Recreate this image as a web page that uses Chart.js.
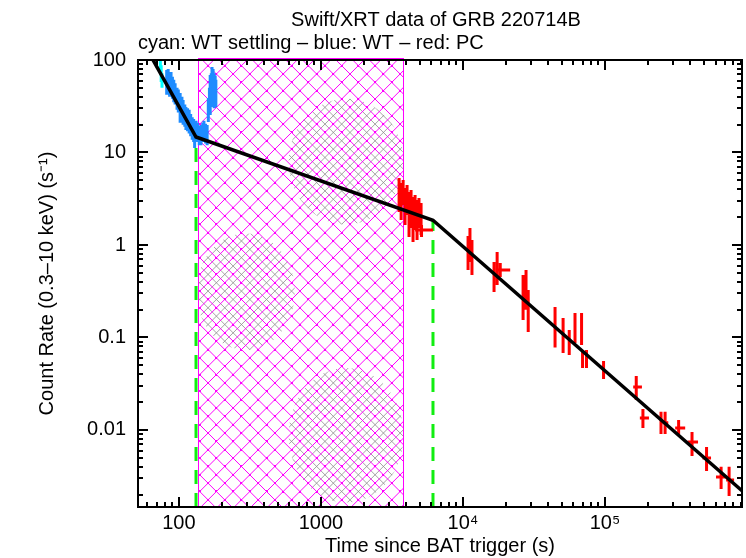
<!DOCTYPE html>
<html><head><meta charset="utf-8">
<script src="https://cdn.jsdelivr.net/npm/chart.js@4/dist/chart.umd.min.js"></script>
<style>html,body{margin:0;padding:0;background:#fff;}#wrap{width:746px;height:558px;}</style>
</head><body><div id="wrap"><canvas id="c" width="746" height="558"></canvas></div>
<script>
const titleText = 'Swift/XRT data of GRB 220714B';
const subtitleText = 'cyan: WT settling \u2013 blue: WT \u2013 red: PC';
const xAxisTitle = 'Time since BAT trigger (s)';
const yAxisTitle = 'Count Rate (0.3\u201310 keV) (s\u207B\u00B9)';

const xTickValues = [100, 1000, 10000, 100000];
const xTickLabels = ['100', '1000', '10\u2074', '10\u2075'];
const yTickValues = [0.01, 0.1, 1, 10, 100];
const yTickLabels = ['0.01', '0.1', '1', '10', '100'];
const xRange = [51.5, 9.22e5];
const yRange = [0.00147, 100];

// WT settling (cyan)
const cyanT = [74.0, 75.0, 76.0];
const cyanRate = [88, 72, 60];
const cyanLo = [76, 58, 50];
const cyanHi = [100, 88, 72];

// WT (blue)
const blueT    = [82, 84, 86, 88, 90, 92, 94, 97, 99, 102, 105, 107, 110, 112, 115, 118, 121, 124, 127, 129, 132, 135, 139, 143, 147, 150, 154, 158, 161, 164, 166, 169, 171, 174, 177, 180, 182];
const blueRate = [57, 60, 52, 54, 50, 46, 43, 38, 36, 31, 30, 27, 25, 23, 22, 21, 19.5, 18, 17, 15.5, 17, 16.5, 15, 15.5, 16.5, 17.5, 16, 15.5, 29, 36, 42, 48, 53, 58, 46, 50, 44];
const blueLo   = [42, 46, 40, 40, 38, 35, 33, 29, 27, 21, 23, 20, 19, 17.5, 17, 16, 15, 13.7, 13, 11.2, 13.5, 13, 12, 12, 13, 13.7, 12.5, 12, 21.3, 26, 25.5, 31, 33, 40, 30, 35, 31];
const blueHi   = [78, 80, 68, 74, 66, 61, 56, 50, 48, 44, 40, 37, 33, 31, 30, 29, 26, 24, 23, 21, 22, 21, 19.5, 19.8, 21, 22, 20.5, 19.8, 38.8, 50, 69, 72, 84, 80, 72, 68, 61];

// PC (red)
const redT    = [3550, 3670, 3790, 3910, 4040, 4170, 4310, 4450, 4600, 4750, 4900, 5070, 5107, 10860, 11200, 11570, 16550, 17400, 18300, 26500, 27800, 28800, 44500, 50700, 56000, 61500, 68400, 69500, 74100, 97700, 166000, 185000, 248000, 265000, 330000, 410000, 519000, 657000, 748000];
const redRate = [3.4, 2.9, 3.7, 2.6, 3.1, 2.1, 2.4, 1.9, 2.2, 1.9, 2.2, 1.9, 1.45, 0.82, 1.0, 0.73, 0.45, 0.56, 0.537, 0.27, 0.33, 0.2, 0.13, 0.105, 0.088, 0.126, 0.12, 0.058, 0.058, 0.0446, 0.0292, 0.0135, 0.0125, 0.012, 0.0105, 0.00742, 0.00498, 0.0031, 0.00288];
const redLo   = [2.27, 1.86, 2.71, 1.64, 2.11, 1.22, 1.53, 1.08, 1.45, 1.13, 1.53, 1.28, 1.22, 0.537, 0.655, 0.474, 0.31, 0.37, 0.45, 0.155, 0.2, 0.1146, 0.0777, 0.068, 0.0647, 0.0873, 0.083, 0.0468, 0.0468, 0.0356, 0.0211, 0.0105, 0.00906, 0.00906, 0.00906, 0.00524, 0.0036, 0.0023, 0.00193];
const redHi   = [5.30, 4.68, 5.04, 4.13, 4.45, 3.74, 3.93, 3.30, 3.47, 3.07, 3.22, 2.85, 1.64, 1.25, 1.53, 1.13, 0.655, 0.84, 0.64, 0.474, 0.537, 0.327, 0.214, 0.1625, 0.1205, 0.184, 0.184, 0.0733, 0.0733, 0.0557, 0.0383, 0.0169, 0.0157, 0.0157, 0.0128, 0.0095, 0.00655, 0.0040, 0.0040];
const redTLo  = [3550, 3670, 3790, 3910, 4040, 4170, 4310, 4450, 4600, 4750, 4900, 5070, 4600, 10860, 11200, 11570, 16550, 17400, 17100, 26500, 27800, 28800, 44500, 50700, 56000, 61500, 68400, 69500, 74100, 97700, 158000, 176000, 244000, 255000, 312000, 381000, 486000, 605000, 713000];
const redTHi  = [3550, 3670, 3790, 3910, 4040, 4170, 4310, 4450, 4600, 4750, 4900, 5070, 6150, 10860, 11200, 11570, 16550, 17400, 21500, 26500, 27800, 28800, 44500, 50700, 56000, 61500, 68400, 69500, 74100, 97700, 182000, 204000, 255000, 279000, 367000, 452000, 558000, 713000, 811000];

// broken power-law model (black)
const modelT    = [55, 131.9, 6150, 9.22e5];
const modelRate = [163, 14.7, 1.85, 0.0022];

// break times (green dashed) and hatched interval (magenta)
const breakT = [131.9, 6150];
const breakRate = [14.7, 1.85];
const hatchT = [136, 3805];

const FONT = 'Liberation Sans, Arial, Helvetica, sans-serif';

function errorBars(t, rate, lo, hi, tLo, tHi) {
  const pts = [];
  for (let i = 0; i < t.length; i++) {
    pts.push({x: t[i], y: lo[i]}, {x: t[i], y: hi[i]}, {x: t[i], y: null});
    if (tLo && tLo[i] !== tHi[i]) {
      pts.push({x: tLo[i], y: rate[i]}, {x: tHi[i], y: rate[i]}, {x: t[i], y: null});
    }
  }
  return pts;
}

function barSet(label, data, color, order) {
  return {label, data, borderColor: color, backgroundColor: color, borderWidth: 3,
    pointRadius: 0, spanGaps: false, tension: 0, fill: false, borderCapStyle: 'butt', order};
}

function drawCross(ctx, x0, y0, x1, y1, s, color, w, phase, dots) {
  const h = y1 - y0;
  ctx.strokeStyle = color; ctx.lineWidth = w; ctx.beginPath();
  const cs = [];
  for (let c = x0 - h - s * 40 + phase; c <= x1 + h; c += s) {
    cs.push(c);
    ctx.moveTo(c, y0); ctx.lineTo(c + h, y1);
    ctx.moveTo(c, y1); ctx.lineTo(c + h, y0);
  }
  ctx.stroke();
  if (dots) {
    ctx.fillStyle = color;
    for (const ca of cs) for (const cb of cs) {
      const y = (cb - ca + y1 + y0) / 2;
      const x = ca + (y - y0);
      if (x >= x0 && x <= x1 && y >= y0 && y <= y1) ctx.fillRect(Math.round(x) - 1, Math.round(y) - 1, 2, 2);
    }
  }
}

// moire patches of the grey under-pattern, as fractions of the hatched box
const greyPatches = [[0.23, 0.52, 0.24, 0.13], [0.72, 0.23, 0.28, 0.14], [0.72, 0.84, 0.28, 0.15]];

const hatchPlugin = {
  id: 'hatch',
  beforeDatasetsDraw(chart) {
    const {ctx, chartArea: a, scales: {x}} = chart;
    const x0 = Math.round(x.getPixelForValue(hatchT[0])) + 0.5;
    const x1 = Math.round(x.getPixelForValue(hatchT[1])) + 0.5;
    const y0 = a.top - 1.5, y1 = a.bottom;
    const W = x1 - x0, H = y1 - y0;
    ctx.save();
    ctx.beginPath(); ctx.rect(x0, y0, W, H); ctx.clip();
    for (const [fx, fy, rx, ry] of greyPatches) {
      ctx.save();
      ctx.beginPath();
      ctx.ellipse(x0 + fx * W, y0 + fy * H, rx * W, ry * H, 0, 0, Math.PI * 2);
      ctx.clip();
      drawCross(ctx, x0, y0, x1, y1, 16.7, '#8c8c8c', 0.8, 8.35, false);
      ctx.restore();
    }
    drawCross(ctx, x0, y0, x1, y1, 16.7, '#ff00ff', 1, 0, true);
    ctx.restore();
    ctx.save();
    ctx.strokeStyle = '#ff00ff'; ctx.lineWidth = 1;
    ctx.strokeRect(x0, y0, W, H);
    ctx.restore();
  }
};

const framePlugin = {
  id: 'frame',
  afterDatasetsDraw(chart) {
    const {ctx, chartArea: a, scales: {x, y}} = chart;
    ctx.save();
    ctx.strokeStyle = '#000'; ctx.lineWidth = 2;
    ctx.strokeRect(a.left, a.top, a.right - a.left, a.bottom - a.top);
    ctx.beginPath();
    for (let e = Math.floor(Math.log10(x.min)); e <= Math.ceil(Math.log10(x.max)); e++) {
      for (let k = 1; k <= 9; k++) {
        const v = k * Math.pow(10, e);
        if (v < x.min || v > x.max) continue;
        const p = Math.round(x.getPixelForValue(v));
        const L = k === 1 ? 10 : 5;
        ctx.moveTo(p, a.bottom); ctx.lineTo(p, a.bottom - L);
        ctx.moveTo(p, a.top); ctx.lineTo(p, a.top + L);
      }
    }
    for (let e = Math.floor(Math.log10(y.min)); e <= Math.ceil(Math.log10(y.max)); e++) {
      for (let k = 1; k <= 9; k++) {
        const v = k * Math.pow(10, e);
        if (v < y.min * 0.999 || v > y.max * 1.001) continue;
        const p = Math.round(y.getPixelForValue(v));
        const L = k === 1 ? 10 : 5;
        ctx.moveTo(a.left, p); ctx.lineTo(a.left + L, p);
        ctx.moveTo(a.right, p); ctx.lineTo(a.right - L, p);
      }
    }
    ctx.stroke();
    ctx.restore();
  },
  afterDraw(chart) {
    const {ctx} = chart;
    ctx.save();
    ctx.fillStyle = '#000';
    ctx.font = '20px ' + FONT;
    ctx.textBaseline = 'middle';
    ctx.textAlign = 'center';
    ctx.fillText(titleText, 436, 20);
    ctx.textAlign = 'left';
    ctx.fillText(subtitleText, 138, 43);
    ctx.restore();
  }
};

const datasets = [
  Object.assign({label: 'model', data: modelT.map((t, i) => ({x: t, y: modelRate[i]})),
    borderColor: '#000', borderWidth: 3.5, pointRadius: 0, tension: 0, fill: false, order: 0}),
  barSet('PC', errorBars(redT, redRate, redLo, redHi, redTLo, redTHi), '#ff0000', 1),
  barSet('WT', errorBars(blueT, blueRate, blueLo, blueHi), '#1e8cff', 2),
  barSet('WT settling', errorBars(cyanT, cyanRate, cyanLo, cyanHi), '#00ffff', 3),
];
breakT.forEach((t, i) => {
  datasets.push({label: 'break' + i, data: [{x: t, y: yRange[0]}, {x: t, y: breakRate[i]}],
    borderColor: '#11ee11', borderWidth: 3, borderDash: [14, 9], pointRadius: 0, fill: false, order: 4});
});

new Chart(document.getElementById('c'), {
  type: 'line',
  data: {datasets},
  options: {
    responsive: false, animation: false, devicePixelRatio: 1, events: [],
    layout: {padding: {top: 60, right: 4, left: 0, bottom: 0}},
    plugins: {legend: {display: false}, tooltip: {enabled: false}, title: {display: false}},
    scales: {
      x: {
        type: 'logarithmic', position: 'bottom', min: xRange[0], max: xRange[1],
        grid: {display: false, drawTicks: false}, border: {display: false},
        afterBuildTicks: s => { s.ticks = xTickValues.map(v => ({value: v})); },
        afterFit: s => { s.height = 51; },
        ticks: {autoSkip: false, maxRotation: 0, padding: 4, color: '#000', font: {family: FONT, size: 20},
          callback: v => { const i = xTickValues.indexOf(v); return i >= 0 ? xTickLabels[i] : ''; }},
        title: {display: true, text: xAxisTitle, color: '#000', font: {family: FONT, size: 20}, padding: {top: 0, bottom: 0}}
      },
      y: {
        type: 'logarithmic', position: 'left', min: yRange[0], max: yRange[1],
        grid: {display: false, drawTicks: false}, border: {display: false},
        afterBuildTicks: s => { s.ticks = yTickValues.map(v => ({value: v})); },
        afterFit: s => { s.width = 138; },
        ticks: {autoSkip: false, padding: 12, color: '#000', font: {family: FONT, size: 20},
          callback: v => { const i = yTickValues.indexOf(v); return i >= 0 ? yTickLabels[i] : ''; }},
        title: {display: true, text: yAxisTitle, color: '#000', font: {family: FONT, size: 20}, padding: {top: 35, bottom: 0}}
      }
    }
  },
  plugins: [hatchPlugin, framePlugin]
});
</script>
</body></html>
